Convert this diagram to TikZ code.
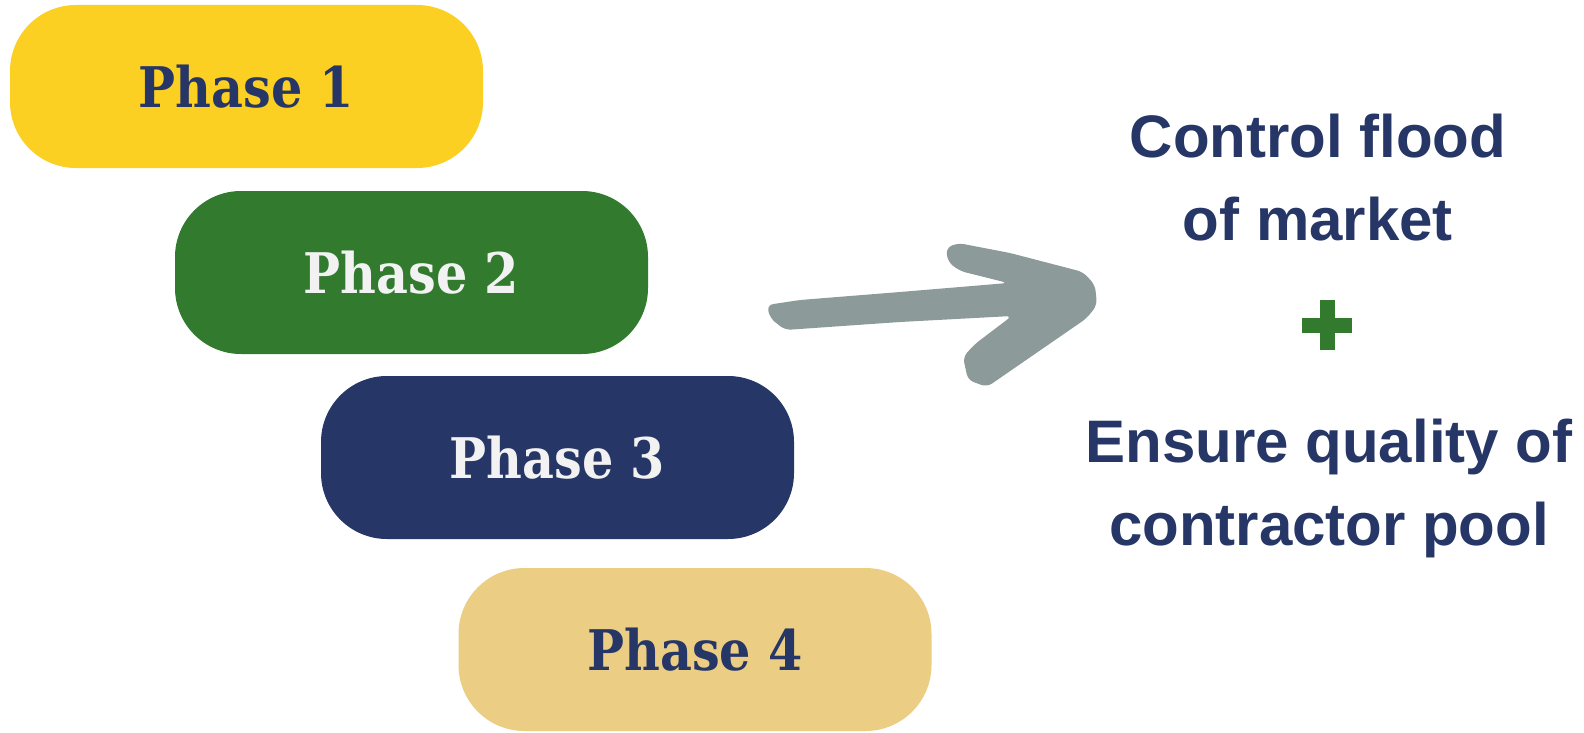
\documentclass[tikz,border=0pt]{standalone}
\usepackage{fontspec}
\setmainfont{Liberation Sans}
\newfontfamily\slabfont{DejaVu Serif}
\definecolor{pyellow}{HTML}{FCD022}
\definecolor{pgreen}{HTML}{317A2E}
\definecolor{pnavy}{HTML}{263666}
\definecolor{ptan}{HTML}{EBCE84}
\definecolor{pgray}{HTML}{8C9A99}
\definecolor{pwhite}{HTML}{F2F2F2}
\tikzset{
  phasebox/.style={rounded corners=33pt, minimum width=236.5pt, minimum height=81.5pt, inner sep=0pt,
    font=\slabfont\bfseries\fontsize{28}{30}\selectfont},
  goaltext/.style={align=center, text=pnavy, font=\bfseries\fontsize{30}{41.5}\selectfont, inner sep=0pt}
}
\newcommand{\phasetxt}[1]{\scalebox{0.88}[1]{#1}}
\begin{document}
\begin{tikzpicture}[x=0.5pt,y=-0.5pt]
\useasboundingbox[fill=white] (0,0) rectangle (1584,733);
\node[phasebox, fill=pyellow, text=pnavy] (p1) at (246.5,86.5) {\phasetxt{Phase 1}};
\node[phasebox, fill=pgreen, text=pwhite] (p2) at (411.5,272.5) {\phasetxt{Phase 2}};
\node[phasebox, fill=pnavy, text=pwhite] (p3) at (557.5,457.5) {\phasetxt{Phase 3}};
\node[phasebox, fill=ptan, text=pnavy] (p4) at (695,649.5) {\phasetxt{Phase 4}};
% arrow
\fill[pgray, rounded corners=3pt] (767,305) -- (800,300) -- (900,292) -- (1008,283)
  -- (960,271) -- (948,262) -- (946,248) -- (958,243) -- (1010,253) -- (1083,272)
  -- (1095,285) -- (1097,305) -- (1087,318) -- (987,387) -- (968,380) -- (963,357)
  -- (975,344) -- (1012,316) -- (900,322) -- (785,330) -- (770,318) -- cycle;
\node[goaltext, anchor=base] (g1) at (1318,240) {Control flood\\of market};
\node[goaltext, anchor=base] (g2) at (1329,545) {Ensure quality of\\contractor pool};
% plus
\fill[pgreen] (1319.5,300) rectangle (1334.5,350);
\fill[pgreen] (1302,317.5) rectangle (1352,332.5);
\end{tikzpicture}
\end{document}
